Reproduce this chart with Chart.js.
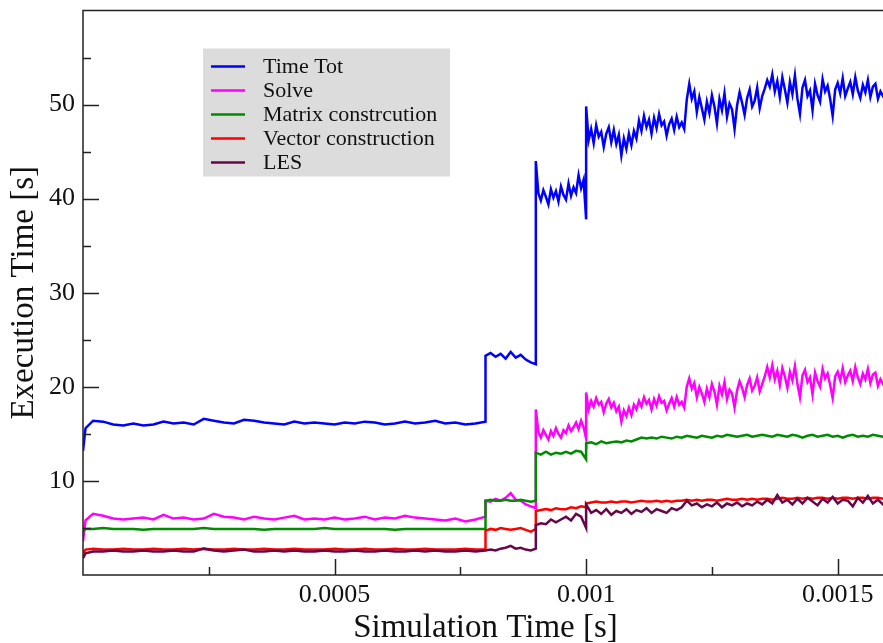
<!DOCTYPE html>
<html>
<head>
<meta charset="utf-8">
<script src="https://cdn.jsdelivr.net/npm/chart.js@4/dist/chart.umd.min.js"></script>
<style>
  html, body { margin: 0; padding: 0; background: #fff; overflow: hidden; }
  canvas { display: block; }
</style>
</head>
<body>
<canvas id="chart" width="890" height="643"></canvas>
<script>
// simulation time in microseconds (repeated values mark the steps)
const timeUs = [
  0, 5, 20, 40, 60, 80, 100, 120, 140, 160, 180, 200, 220, 240, 260, 280, 300, 320, 340, 360,
  380, 400, 420, 440, 460, 480, 500, 520, 540, 560, 580, 600, 620, 640, 660, 680, 700, 720, 740, 760,
  780, 800,
  800, 810, 820, 830, 840, 850, 860, 870, 880, 890, 900,
  900, 910, 920, 930, 940, 950, 960, 970, 980, 990, 1000,
  1000, 1010, 1020, 1030, 1040, 1050, 1060, 1070, 1080, 1090,
  1100, 1110, 1120, 1130, 1140, 1150, 1160, 1170, 1180, 1190,
  1200, 1210, 1220, 1230, 1240, 1250, 1260, 1270, 1280, 1290,
  1300, 1310, 1320, 1330, 1340, 1350, 1360, 1370, 1380, 1390,
  1400, 1410, 1420, 1430, 1440, 1450, 1460, 1470, 1480, 1490,
  1500, 1510, 1520, 1530, 1540, 1550, 1560, 1570, 1580, 1590,
  1600
];

// finer sampling for the two noisy series
const timeUsFine = [
  0, 5, 20, 40, 60, 80, 100, 120, 140, 160, 180, 200, 220, 240, 260, 280, 300, 320, 340, 360,
  380, 400, 420, 440, 460, 480, 500, 520, 540, 560, 580, 600, 620, 640, 660, 680, 700, 720, 740, 760,
  780, 800,
  800, 810, 820, 830, 840, 850, 860, 870, 880, 890, 900,
  900, 905, 910, 915, 920, 925, 930, 935, 940, 945, 950, 955, 960, 965, 970, 975, 980, 985, 990, 995,
  1000,
  1000, 1005, 1010, 1015, 1020, 1025, 1030, 1035, 1040, 1045, 1050, 1055, 1060, 1065, 1070, 1075, 1080, 1085, 1090, 1095,
  1100, 1105, 1110, 1115, 1120, 1125, 1130, 1135, 1140, 1145, 1150, 1155, 1160, 1165, 1170, 1175, 1180, 1185, 1190, 1195,
  1200, 1205, 1210, 1215, 1220, 1225, 1230, 1235, 1240, 1245, 1250, 1255, 1260, 1265, 1270, 1275, 1280, 1285, 1290, 1295,
  1300, 1305, 1310, 1315, 1320, 1325, 1330, 1335, 1340, 1345, 1350, 1355, 1360, 1365, 1370, 1375, 1380, 1385, 1390, 1395,
  1400, 1405, 1410, 1415, 1420, 1425, 1430, 1435, 1440, 1445, 1450, 1455, 1460, 1465, 1470, 1475, 1480, 1485, 1490, 1495,
  1500, 1505, 1510, 1515, 1520, 1525, 1530, 1535, 1540, 1545, 1550, 1555, 1560, 1565, 1570, 1575, 1580, 1585, 1590, 1595,
  1600
];

const timeTot = [
  13.2, 15.6, 16.4, 16.3, 16.0, 15.9, 16.1, 15.9, 16.0, 16.3, 16.1, 16.2, 16.0, 16.6, 16.4, 16.2, 16.1, 16.5, 16.4, 16.2,
  16.1, 16.0, 16.3, 16.1, 16.2, 16.1, 16.0, 16.2, 16.1, 16.3, 16.2, 16.0, 16.1, 16.3, 16.1, 16.2, 16.4, 16.1, 16.2, 16.0,
  16.1, 16.3,
  23.3, 23.6, 23.2, 23.5, 23.0, 23.7, 23.1, 23.4, 22.9, 22.6, 22.4,
  44.0, 40.6, 39.8, 40.9, 40.2, 39.4, 41.0, 40.1, 40.8, 39.7, 41.3, 40.4, 39.9, 41.6, 40.3, 41.2, 40.6, 42.5, 41.1, 42.0,
  37.8,
  49.8, 46.2, 47.4, 45.9, 47.8, 46.6, 47.1, 45.5, 46.9, 47.6, 46.0, 47.3, 45.8, 46.8, 44.6, 46.4, 45.3, 46.9, 45.7, 47.2,
  46.4, 48.3, 47.2, 48.8, 47.6, 48.4, 46.9, 48.6, 47.5, 49.0, 47.8, 48.2, 46.7, 47.9, 48.5, 47.3, 48.7, 47.6, 48.1, 47.4,
  50.5, 52.2, 50.6, 51.4, 49.2, 50.8, 49.6, 48.4, 50.3, 49.1, 51.0, 49.8, 48.0, 50.6, 49.4, 51.2, 48.7, 50.1, 49.5, 47.4,
  49.9, 51.3, 50.2, 48.9, 50.7, 51.6, 49.8, 50.4, 51.8, 49.6, 50.9, 51.7, 52.6, 51.9, 53.2, 51.4, 52.5, 50.8, 52.9, 51.6,
  50.2, 52.4, 51.1, 53.1, 50.6, 49.0, 51.8, 52.6, 50.9, 51.5, 49.4, 52.2, 51.0, 50.3, 52.7, 51.4, 52.0, 50.6, 48.8, 51.6,
  52.3, 51.2, 52.8, 50.9, 51.7, 52.4, 51.1, 52.9, 51.5, 50.7, 52.1, 51.3, 52.6, 50.8, 51.9, 52.2, 50.6, 51.4, 50.9, 51.6,
  50.5
];

const solve = [
  3.6, 5.8, 6.5, 6.3, 6.0, 5.9, 6.0, 6.1, 5.9, 6.4, 6.0, 6.1, 5.9, 6.0, 6.5, 6.2, 6.1, 5.9, 6.2, 6.0,
  5.9, 6.1, 6.3, 5.9, 6.0, 5.9, 6.1, 5.9, 6.0, 6.2, 5.9, 6.1, 6.0, 6.3, 6.1, 6.0, 5.9, 5.8, 6.0, 5.7,
  5.9, 6.2,
  7.9, 7.8, 8.1, 7.9, 8.2, 8.7, 8.0, 7.9, 7.5, 7.3, 7.1,
  17.6, 15.2, 14.6, 15.4, 14.9, 14.4, 15.3, 14.8, 15.6, 15.0, 14.6, 15.4, 15.1, 15.9, 15.3, 15.7, 16.2, 15.5, 16.4, 15.7,
  14.5,
  19.4, 17.6, 18.5, 17.9, 18.8, 18.1, 18.4, 17.3, 18.2, 18.7, 17.8, 18.3, 17.4, 17.9, 16.3, 17.5, 16.9, 17.8, 17.0, 18.1,
  17.6, 18.5, 17.9, 18.9, 18.2, 18.6, 17.6, 18.7, 18.0, 19.0, 18.3, 18.5, 17.5, 18.2, 18.8, 17.9, 18.9, 18.1, 18.4, 17.8,
  20.0, 20.9, 19.8, 20.4, 18.9, 20.0, 19.3, 18.4, 19.8, 18.9, 20.3, 19.5, 18.1, 20.1, 19.2, 20.5, 18.7, 19.7, 19.3, 17.8,
  19.6, 20.6, 19.9, 18.9, 20.2, 20.9, 19.6, 20.1, 21.0, 19.5, 20.3, 21.1, 22.1, 21.0, 22.3, 20.8, 21.7, 20.2, 22.0, 21.1,
  19.9, 21.6, 20.7, 22.2, 20.3, 18.9, 21.2, 21.8, 20.5, 21.0, 19.2, 21.5, 20.6, 20.0, 21.9, 20.9, 21.4, 20.2, 18.8, 21.1,
  21.6, 20.7, 22.0, 20.5, 21.2, 21.7, 20.6, 22.1, 21.0, 20.3, 21.4, 20.8, 21.9, 20.4, 21.3, 21.5, 20.1, 20.8, 20.3, 20.9,
  19.8
];

const matrixConstr = [
  4.6, 4.9, 4.9, 5.0, 4.9, 4.9, 4.9, 4.8, 4.9, 4.9, 4.9, 4.9, 4.9, 5.0, 4.9, 4.9, 4.9, 4.9, 4.9, 4.8,
  4.9, 4.9, 4.9, 4.9, 4.9, 5.0, 4.9, 4.9, 4.9, 4.9, 4.9, 4.9, 4.8, 4.9, 4.9, 4.9, 4.9, 4.9, 4.9, 4.9,
  4.9, 4.9,
  7.9, 8.0, 7.9, 7.9, 8.0, 7.9, 7.9, 8.0, 7.9, 7.8, 7.9,
  13.0, 12.8, 13.1, 12.8, 13.0, 12.9, 13.1, 12.9, 13.2, 13.1, 12.3,
  14.0, 14.1, 13.9, 14.2, 14.0, 14.1, 14.2, 14.1, 14.3, 14.2,
  14.4, 14.6, 14.5, 14.6, 14.5, 14.7, 14.6, 14.5, 14.7, 14.6,
  14.8, 14.7, 14.6, 14.8, 14.7, 14.6, 14.8, 14.7, 14.9, 14.8,
  14.7, 14.8, 14.9, 14.7, 14.8, 14.9, 14.8, 14.7, 14.9, 14.8,
  14.7, 14.9, 14.8, 14.6, 14.8, 14.9, 14.7, 14.8, 14.9, 14.7,
  14.8, 14.6, 14.8, 14.9, 14.7, 14.8, 14.7, 14.9, 14.8, 14.7,
  14.8
];

const vectorConstr = [
  2.3, 2.7, 2.8, 2.7, 2.7, 2.8, 2.7, 2.7, 2.8, 2.7, 2.7, 2.8, 2.7, 2.8, 2.7, 2.7, 2.8, 2.7, 2.7, 2.8,
  2.7, 2.7, 2.8, 2.7, 2.7, 2.7, 2.8, 2.7, 2.7, 2.8, 2.7, 2.7, 2.8, 2.7, 2.7, 2.8, 2.7, 2.7, 2.7, 2.8,
  2.7, 2.7,
  4.7, 4.9, 4.8, 5.0, 4.9, 4.8, 4.9, 5.0, 4.8, 4.6, 4.9,
  6.8, 6.9, 7.0, 6.9, 7.1, 7.0, 7.0, 7.2, 7.1, 7.3, 7.2,
  7.6, 7.7, 7.8, 7.7, 7.7, 7.8, 7.7, 7.8, 7.8, 7.7,
  7.8, 7.9, 7.8, 7.8, 7.9, 7.8, 7.9, 7.8, 7.9, 7.9,
  8.0, 7.9, 8.0, 7.9, 8.0, 8.0, 7.9, 8.0, 8.1, 8.0,
  8.0, 8.1, 8.0, 8.1, 8.0, 8.1, 8.1, 8.0, 8.1, 8.2,
  8.1, 8.1, 8.2, 8.1, 8.2, 8.1, 8.2, 8.2, 8.1, 8.2,
  8.1, 8.2, 8.2, 8.1, 8.2, 8.2, 8.1, 8.2, 8.2, 8.1,
  8.2
];

const les = [
  1.8, 2.3, 2.5, 2.5, 2.6, 2.5, 2.5, 2.6, 2.5, 2.5, 2.6, 2.5, 2.5, 2.8, 2.6, 2.5, 2.6, 2.7, 2.5, 2.5,
  2.6, 2.5, 2.6, 2.5, 2.5, 2.6, 2.5, 2.5, 2.6, 2.5, 2.5, 2.6, 2.5, 2.5, 2.6, 2.5, 2.6, 2.5, 2.5, 2.6,
  2.5, 2.6,
  2.6, 2.7, 2.6, 2.8, 2.9, 3.1, 2.8, 2.9, 2.7, 2.6, 2.8,
  5.3, 5.5, 5.4, 5.9, 5.6, 5.9, 6.2, 5.8, 6.5, 6.2, 5.0,
  7.5, 6.6, 6.9, 6.5, 7.0, 6.4, 6.8, 6.6, 7.0, 6.5,
  6.9, 6.7, 7.1, 6.6, 7.0, 6.8, 6.6, 7.1, 6.9, 7.2,
  7.9, 7.4, 7.6, 7.2, 7.5, 7.3, 7.7, 7.2, 7.6, 7.4,
  7.7, 7.3, 7.6, 7.4, 7.8, 7.5, 8.0, 7.6, 8.5, 7.7,
  8.0, 7.5, 8.1, 7.6, 8.2, 7.8, 7.4, 8.1, 7.7, 8.3,
  7.6, 8.0, 7.9, 7.3, 8.2, 7.7, 8.4, 7.6, 8.0, 7.5,
  7.9
];

const seriesNames = ["Time Tot", "Solve", "Matrix constrcution", "Vector construction", "LES"];
const seriesColors = ["#0000ff", "#ff00ff", "#008b00", "#ff0000", "#670748"];
const seriesValues = [timeTot, solve, matrixConstr, vectorConstr, les];
const seriesTimes = [timeUsFine, timeUsFine, timeUs, timeUs, timeUs];

const xMajorTicks = [0.0005, 0.001, 0.0015];
const xTickLabels = ["0.0005", "0.001", "0.0015"];
const xMinorTicks = [0.00025, 0.00075, 0.00125];
const yMajorTicks = [10, 20, 30, 40, 50];
const yTickLabels = ["10", "20", "30", "40", "50"];
const yMinorTicks = [5, 15, 25, 35, 45, 55];

const serif = "'Liberation Serif', 'DejaVu Serif', serif";

// frame and inward tick marks, grace style
const frameTicks = {
  id: "frameTicks",
  afterDraw(chart) {
    const { ctx, chartArea: a } = chart;
    const xs = chart.scales.x;
    const ys = chart.scales.y;
    ctx.save();
    ctx.strokeStyle = "#222";
    ctx.lineWidth = 1.5;
    ctx.strokeRect(a.left, a.top, a.right - a.left, a.bottom - a.top);
    ctx.beginPath();
    xMajorTicks.forEach((v) => {
      const px = Math.round(xs.getPixelForValue(v)) + 0.5;
      ctx.moveTo(px, a.bottom); ctx.lineTo(px, a.bottom - 16);
    });
    xMinorTicks.forEach((v) => {
      const px = Math.round(xs.getPixelForValue(v)) + 0.5;
      ctx.moveTo(px, a.bottom); ctx.lineTo(px, a.bottom - 8);
    });
    yMajorTicks.forEach((v) => {
      const py = Math.round(ys.getPixelForValue(v)) + 0.5;
      ctx.moveTo(a.left, py); ctx.lineTo(a.left + 16, py);
    });
    yMinorTicks.forEach((v) => {
      const py = Math.round(ys.getPixelForValue(v)) + 0.5;
      ctx.moveTo(a.left, py); ctx.lineTo(a.left + 8, py);
    });
    ctx.stroke();
    ctx.restore();
  }
};

// legend box inside the plot
const boxLegend = {
  id: "boxLegend",
  afterDraw(chart) {
    const { ctx, chartArea: a } = chart;
    const bx = a.left + 120, by = a.top + 38;
    const bw = 247, bh = 128, row = 24;
    ctx.save();
    ctx.fillStyle = "#dcdcdc";
    ctx.fillRect(bx, by, bw, bh);
    ctx.font = "22px " + serif;
    ctx.textBaseline = "middle";
    seriesNames.forEach((name, i) => {
      const ly = by + 18 + i * row;
      ctx.strokeStyle = seriesColors[i];
      ctx.lineWidth = 2.5;
      ctx.beginPath();
      ctx.moveTo(bx + 8, ly); ctx.lineTo(bx + 42, ly);
      ctx.stroke();
      ctx.fillStyle = "#111";
      ctx.fillText(name, bx + 60, ly + 1);
    });
    ctx.restore();
  }
};

const datasets = seriesNames.map((name, i) => ({
  label: name,
  data: seriesTimes[i].map((t, k) => ({ x: t / 1e6, y: seriesValues[i][k] })),
  borderColor: seriesColors[i],
  borderWidth: 2.5,
  pointRadius: 0,
  tension: 0,
  fill: false,
  order: seriesNames.length - i
}));

new Chart(document.getElementById("chart"), {
  type: "line",
  data: { datasets },
  options: {
    responsive: false,
    animation: false,
    devicePixelRatio: 1,
    layout: { padding: { top: 10.5, right: 2, left: 0, bottom: 0 } },
    plugins: { legend: { display: false }, tooltip: { enabled: false } },
    scales: {
      x: {
        type: "linear",
        min: 0,
        max: 0.0016,
        grid: { display: false, drawTicks: false },
        border: { display: false },
        afterBuildTicks: (s) => { s.ticks = xMajorTicks.map((v) => ({ value: v })); },
        afterFit: (s) => { s.height = 68; s.paddingLeft = 0; s.paddingRight = 0; },
        ticks: {
          padding: 5,
          maxRotation: 0,
          color: "#111",
          font: { family: serif, size: 26 },
          callback: (v, i) => xTickLabels[i]
        },
        title: {
          display: true,
          text: "Simulation Time [s]",
          color: "#111",
          font: { family: serif, size: 33, lineHeight: 1 },
          padding: { top: 0, bottom: -2 }
        }
      },
      y: {
        min: 0,
        max: 60,
        grid: { display: false, drawTicks: false },
        border: { display: false },
        afterBuildTicks: (s) => { s.ticks = yMajorTicks.map((v) => ({ value: v })); },
        afterFit: (s) => { s.width = 83; s.paddingTop = 0; s.paddingBottom = 0; },
        ticks: {
          padding: 8,
          color: "#111",
          font: { family: serif, size: 26 },
          callback: (v, i) => yTickLabels[i]
        },
        title: {
          display: true,
          text: "Execution Time [s]",
          color: "#111",
          font: { family: serif, size: 33, lineHeight: 1 },
          padding: { top: 8, bottom: 0 }
        }
      }
    }
  },
  plugins: [frameTicks, boxLegend]
});
</script>
</body>
</html>
